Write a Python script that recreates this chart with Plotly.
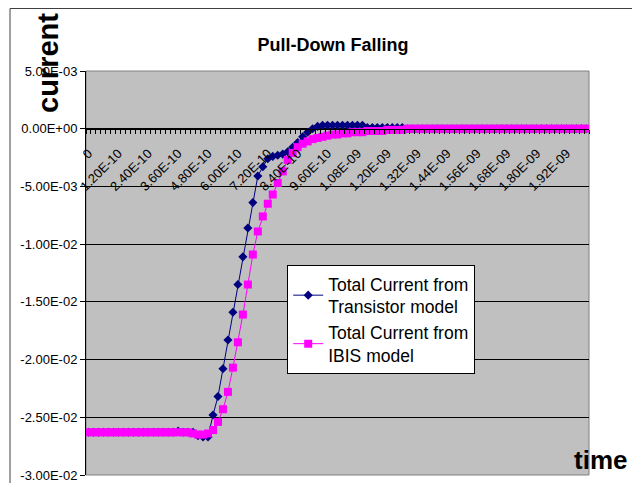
import plotly.graph_objects as go

# time axis, in picoseconds (one category every 20 ps)
time_ps = [
    0, 20, 40, 60, 80, 100, 120, 140, 160, 180, 200, 220, 240, 260, 280, 300, 320, 340, 360, 380,
    400, 420, 440, 460, 480, 500, 520, 540, 560, 580, 600, 620, 640, 660, 680, 700, 720, 740, 760, 780,
    800, 820, 840, 860, 880, 900, 920, 940, 960, 980, 1000, 1020, 1040, 1060, 1080, 1100, 1120, 1140, 1160, 1180,
    1200, 1220, 1240, 1260, 1280, 1300, 1320, 1340, 1360, 1380, 1400, 1420, 1440, 1460, 1480, 1500, 1520, 1540, 1560, 1580,
    1600, 1620, 1640, 1660, 1680, 1700, 1720, 1740, 1760, 1780, 1800, 1820, 1840, 1860, 1880, 1900, 1920, 1940, 1960, 1980,
    2000,
]

transistor_current = [
    -0.0263, -0.0263, -0.0263, -0.0263, -0.0263, -0.0263, -0.0263, -0.0263, -0.0263, -0.0263,
    -0.0263, -0.0263, -0.0263, -0.0263, -0.0263, -0.0263, -0.0263, -0.0263, -0.0262, -0.0263,
    -0.0263, -0.0263, -0.0266, -0.0267, -0.0267, -0.0248, -0.0232, -0.0208, -0.0183, -0.0159,
    -0.0135, -0.0111, -0.0086, -0.0064, -0.0041, -0.0033, -0.0026, -0.0024, -0.0023, -0.0022,
    -0.0020, -0.0016, -0.0012, -0.0007, -0.0003, 0.0000, 0.0002, 0.0003, 0.0003, 0.0003,
    0.0003, 0.0003, 0.0003, 0.0003, 0.0003, 0.0003, 0.0001, 0.0001, 0.0001, 0.0001,
    0.0001, 0.0001, 0.0001, 0.0001, 0.0, 0.0, 0.0, 0.0, 0.0, 0.0,
    0.0, 0.0, 0.0, 0.0, 0.0, 0.0, 0.0, 0.0, 0.0, 0.0,
    0.0, 0.0, 0.0, 0.0, 0.0, 0.0, 0.0, 0.0, 0.0, 0.0,
    0.0, 0.0, 0.0, 0.0, 0.0, 0.0, 0.0, 0.0, 0.0, 0.0,
    0.0,
]

ibis_current = [
    -0.0263, -0.0263, -0.0263, -0.0263, -0.0263, -0.0263, -0.0263, -0.0263, -0.0263, -0.0263,
    -0.0263, -0.0263, -0.0263, -0.0263, -0.0263, -0.0263, -0.0263, -0.0263, -0.0263, -0.0263,
    -0.0263, -0.0264, -0.0265, -0.0265, -0.0264, -0.0261, -0.0254, -0.0243, -0.0228, -0.0207,
    -0.0185, -0.0161, -0.0135, -0.0109, -0.0089, -0.0076, -0.0065, -0.0057, -0.0047, -0.0037,
    -0.0027, -0.0021, -0.0016, -0.0013, -0.0011, -0.0009, -0.0008, -0.0007, -0.0006, -0.0005,
    -0.0005, -0.0004, -0.0004, -0.0003, -0.0003, -0.0003, -0.0002, -0.0002, -0.0002, -0.0002,
    -0.0001, -0.0001, -0.0001, -0.0001, 0.0, 0.0, 0.0, 0.0, 0.0, 0.0,
    0.0, 0.0, 0.0, 0.0, 0.0, 0.0, 0.0, 0.0, 0.0, 0.0,
    0.0, 0.0, 0.0, 0.0, 0.0, 0.0, 0.0, 0.0, 0.0, 0.0,
    0.0, 0.0, 0.0, 0.0, 0.0, 0.0, 0.0, 0.0, 0.0, 0.0,
    0.0,
]

y_ticks = [0.005, 0.0, -0.005, -0.01, -0.015, -0.02, -0.025, -0.03]
x_label_ps = [0, 120, 240, 360, 480, 600, 720, 840, 960, 1080, 1200, 1320, 1440, 1560, 1680, 1800, 1920]

FONT = "Liberation Sans, Arial, sans-serif"

t = [p * 1e-12 for p in time_ps]
x_tickvals = [p * 1e-12 for p in x_label_ps]
x_ticktext = ["0" if v == 0 else f"{v:.2E}" for v in x_tickvals]
y_ticktext = [f"{v:.2E}" for v in y_ticks]

ymin, ymax = -0.03, 0.005
step = 20e-12

fig = go.Figure()
fig.add_trace(go.Scatter(
    x=t, y=transistor_current, mode="lines+markers",
    name="Total Current from<br>Transistor model",
    line=dict(color="#000080", width=1),
    marker=dict(symbol="diamond", size=7, color="#000080"),
))
fig.add_trace(go.Scatter(
    x=t, y=ibis_current, mode="lines+markers",
    name="Total Current from<br>IBIS model",
    line=dict(color="#FF00FF", width=1),
    marker=dict(symbol="square", size=8, color="#FF00FF"),
))

# the page body adds an 8px offset, so margins are shifted by 8
fig.update_layout(
    width=640, height=483,
    margin=dict(l=78, r=59, t=63, b=16),
    paper_bgcolor="white",
    plot_bgcolor="#C0C0C0",
    font=dict(family=FONT, size=13, color="black"),
    title=dict(
        text="Pull-Down Falling",
        font=dict(family=FONT, size=18, weight="bold"),
        xref="paper", x=0.491, xanchor="center",
        yref="container", y=1 - 37 / 483, yanchor="middle",
        automargin=False,
    ),
    legend=dict(
        x=0.4, y=0.52, xanchor="left", yanchor="top",
        bgcolor="white", bordercolor="black", borderwidth=1,
        font=dict(family=FONT, size=17.5),
    ),
    showlegend=True,
)

fig.update_yaxes(
    range=[ymin, ymax], automargin=False,
    tickvals=y_ticks, ticktext=y_ticktext,
    ticks="outside", ticklen=5, tickcolor="black",
    showgrid=True, gridcolor="black", gridwidth=1,
    zeroline=False,
    showline=True, linecolor="black", linewidth=1,
    tickfont=dict(size=13),
)

fig.update_xaxes(
    range=[-step / 2, t[-1] + step / 2], automargin=False,
    anchor="free", position=(0 - ymin) / (ymax - ymin),
    tickvals=x_tickvals, ticktext=x_ticktext,
    tickangle=-45,
    ticks="outside", ticklen=11, tickcolor="rgba(0,0,0,0)",
    minor=dict(tick0=-step / 2, dtick=step, ticks="outside", ticklen=4, tickcolor="black", showgrid=False),
    showgrid=False, zeroline=False,
    showline=True, linecolor="black", linewidth=1,
    tickfont=dict(size=13),
)

# plot area border and chart frame (paper units relative to plot area at x 86..589, y 71..475)
fig.add_shape(type="rect", xref="paper", yref="paper", x0=0, x1=1, y0=0, y1=1,
              line=dict(color="#808080", width=1), layer="below")
fig.add_shape(type="rect", xref="paper", yref="paper",
              x0=(10 - 86) / 503, x1=(637 - 86) / 503, y0=(475 - 495) / 404, y1=(475 - 8.5) / 404,
              line=dict(color="#404040", width=1))

fig.add_annotation(text="<b>current</b>", textangle=-90, showarrow=False,
                   xref="paper", yref="paper", x=(48 - 86) / 503, y=(475 - 63) / 404,
                   xanchor="center", yanchor="middle", font=dict(family=FONT, size=29))
fig.add_annotation(text="<b>time</b>", showarrow=False,
                   xref="paper", yref="paper", x=(600 - 86) / 503, y=(475 - 460) / 404,
                   xanchor="center", yanchor="middle", font=dict(family=FONT, size=26))

fig.write_html("out.html")
